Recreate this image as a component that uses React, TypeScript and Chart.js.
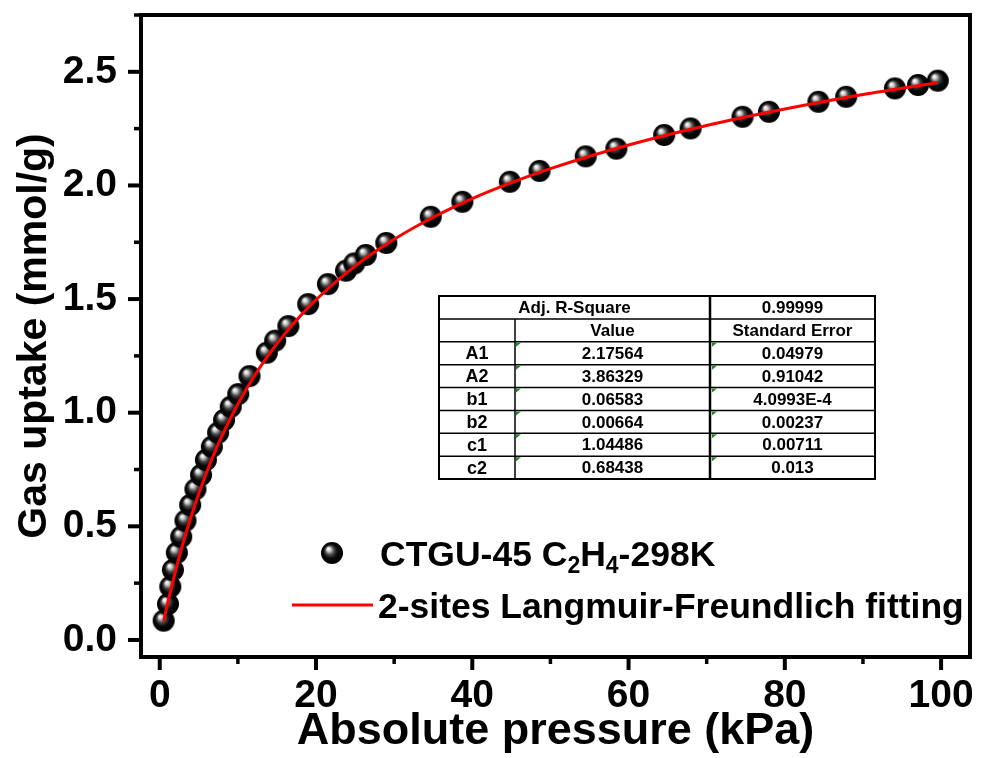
import React, { useEffect, useRef } from "react";
import { Chart, registerables } from "chart.js";

Chart.register(...registerables);

const FONT = '"Liberation Sans", Arial, Helvetica, sans-serif';

// Measured isotherm points (kPa, mmol/g)
const pressure = [0.5, 1.05, 1.35, 1.68, 2.19, 2.75, 3.29, 3.89, 4.56, 5.28, 5.91, 6.67, 7.47, 8.23, 9.08, 10.04, 11.48, 13.71, 14.77, 16.46, 18.99, 21.52, 23.84, 24.9, 26.37, 28.99, 34.68, 38.73, 44.81, 48.61, 54.52, 58.44, 64.56, 67.94, 74.59, 77.97, 84.3, 87.85, 94.09, 97.05, 99.58];
const uptake = [0.085, 0.158, 0.234, 0.308, 0.384, 0.454, 0.525, 0.594, 0.663, 0.726, 0.792, 0.85, 0.912, 0.968, 1.026, 1.082, 1.161, 1.264, 1.317, 1.381, 1.478, 1.566, 1.625, 1.657, 1.694, 1.747, 1.862, 1.928, 2.016, 2.064, 2.128, 2.162, 2.222, 2.251, 2.302, 2.324, 2.368, 2.39, 2.427, 2.442, 2.461];

// Fitted curve
const fitPressure = [0.5, 1, 2, 3, 4, 5, 6, 7, 8, 10, 12, 14, 16, 18, 20, 25, 30, 35, 40, 45, 50, 60, 70, 80, 90, 99.6];
const fitUptake = [0.083, 0.16, 0.301, 0.428, 0.541, 0.644, 0.738, 0.823, 0.901, 1.038, 1.156, 1.258, 1.347, 1.426, 1.497, 1.645, 1.763, 1.86, 1.942, 2.012, 2.074, 2.178, 2.264, 2.336, 2.4, 2.453];

// Axis
const xMin = -2.4;
const xMax = 103.7;
const yMin = -0.075;
const yMax = 2.75;
const xStep = 10;
const xLabelEvery = 20;
const yStep = 0.25;
const yLabelEvery = 0.5;
const xTitle = "Absolute pressure (kPa)";
const yTitle = "Gas uptake (mmol/g)";

// Legend
const seriesParts = [
  { t: "CTGU-45 C", sub: false },
  { t: "2", sub: true },
  { t: "H", sub: false },
  { t: "4", sub: true },
  { t: "-298K", sub: false },
];
const seriesLabel = "CTGU-45 C₂H₄-298K";
const fitLabel = "2-sites Langmuir-Freundlich fitting";

// Fit table
const tableTop = ["Adj. R-Square", "0.99999"];
const tableHead = ["", "Value", "Standard Error"];
const paramNames = ["A1", "A2", "b1", "b2", "c1", "c2"];
const paramValues = ["2.17564", "3.86329", "0.06583", "0.00664", "1.04486", "0.68438"];
const paramErrors = ["0.04979", "0.91042", "4.0993E-4", "0.00237", "0.00711", "0.013"];

function makeSphere(r: number): HTMLCanvasElement {
  const size = Math.ceil(r * 2 + 2);
  const c = document.createElement("canvas");
  c.width = size;
  c.height = size;
  const ctx = c.getContext("2d")!;
  const cx = size / 2;
  const g = ctx.createRadialGradient(cx - r * 0.35, cx - r * 0.4, 0.3, cx, cx, r);
  g.addColorStop(0, "#ffffff");
  g.addColorStop(0.15, "#d4d4d4");
  g.addColorStop(0.4, "#454545");
  g.addColorStop(0.65, "#080808");
  g.addColorStop(1, "#000000");
  ctx.fillStyle = g;
  ctx.beginPath();
  ctx.arc(cx, cx, r, 0, Math.PI * 2);
  ctx.fill();
  return c;
}

function isMultiple(v: number, step: number) {
  const q = v / step;
  return Math.abs(q - Math.round(q)) < 1e-6;
}

export default function App() {
  const ref = useRef<HTMLCanvasElement>(null);

  useEffect(() => {
    document.body.style.margin = "0";
    document.body.style.overflow = "hidden";
    const canvas = ref.current!;
    const sphere = makeSphere(11);

    const decor = {
      id: "decor",
      afterDraw(chart: any) {
        const ctx = chart.ctx as CanvasRenderingContext2D;
        const a = chart.chartArea;
        const xs = chart.scales.x;
        const ys = chart.scales.y;
        ctx.save();
        // ticks
        ctx.strokeStyle = "#000";
        ctx.lineCap = "butt";
        for (const t of xs.ticks) {
          const px = xs.getPixelForValue(t.value);
          const major = isMultiple(t.value, xLabelEvery);
          ctx.lineWidth = major ? 4 : 3.5;
          ctx.beginPath();
          ctx.moveTo(px, a.bottom);
          ctx.lineTo(px, a.bottom + (major ? 13 : 7));
          ctx.stroke();
        }
        for (const t of ys.ticks) {
          const py = ys.getPixelForValue(t.value);
          const major = isMultiple(t.value, yLabelEvery);
          ctx.lineWidth = major ? 4 : 3.5;
          ctx.beginPath();
          ctx.moveTo(a.left, py);
          ctx.lineTo(a.left - (major ? 13 : 7), py);
          ctx.stroke();
        }
        // frame
        ctx.lineWidth = 4;
        ctx.lineJoin = "miter";
        ctx.strokeRect(a.left, a.top, a.right - a.left, a.bottom - a.top);

        // legend
        const fitDs = chart.data.datasets[0];
        ctx.drawImage(sphere, 332 - sphere.width / 2, 553 - sphere.height / 2);
        ctx.fillStyle = "#000";
        ctx.textAlign = "left";
        ctx.textBaseline = "alphabetic";
        let x = 380;
        const base1 = 566;
        for (const p of seriesParts) {
          ctx.font = p.sub ? `bold 23px ${FONT}` : `bold 35.5px ${FONT}`;
          ctx.fillText(p.t, x, p.sub ? base1 + 7 : base1);
          x += ctx.measureText(p.t).width;
        }
        ctx.strokeStyle = fitDs.borderColor;
        ctx.lineWidth = 3;
        ctx.beginPath();
        ctx.moveTo(292, 605);
        ctx.lineTo(373, 605);
        ctx.stroke();
        ctx.font = `bold 35.5px ${FONT}`;
        ctx.fillText(fitDs.label, 378, 618);

        // table
        const L = 439, C1 = 515, C2 = 710, R = 875, T = 296, B = 479;
        const rows = 2 + paramNames.length;
        const rh = (B - T) / rows;
        ctx.fillStyle = "#fff";
        ctx.fillRect(L, T, R - L, B - T);
        ctx.strokeStyle = "#000";
        ctx.lineWidth = 1.5;
        for (let i = 1; i < rows; i++) {
          const y = T + i * rh;
          ctx.beginPath();
          ctx.moveTo(L, y);
          ctx.lineTo(R, y);
          ctx.stroke();
        }
        ctx.beginPath();
        ctx.moveTo(C1, T + rh);
        ctx.lineTo(C1, B);
        ctx.stroke();
        ctx.lineWidth = 2.5;
        ctx.beginPath();
        ctx.moveTo(C2, T);
        ctx.lineTo(C2, B);
        ctx.stroke();
        ctx.lineWidth = 2;
        ctx.strokeRect(L, T, R - L, B - T);
        // green markers
        ctx.fillStyle = "#1f8a1f";
        for (let i = 0; i < paramNames.length; i++) {
          const y = T + (i + 2) * rh + 1;
          for (const cx of [C1 + 1, C2 + 2]) {
            ctx.beginPath();
            ctx.moveTo(cx, y);
            ctx.lineTo(cx + 5, y);
            ctx.lineTo(cx, y + 4);
            ctx.closePath();
            ctx.fill();
          }
        }
        ctx.fillStyle = "#000";
        ctx.font = `bold 17px ${FONT}`;
        ctx.textAlign = "center";
        ctx.textBaseline = "middle";
        const mid = (i: number) => T + (i + 0.5) * rh + 1;
        ctx.fillText(tableTop[0], (L + C2) / 2, mid(0));
        ctx.fillText(tableTop[1], (C2 + R) / 2, mid(0));
        ctx.fillText(tableHead[0], (L + C1) / 2, mid(1));
        ctx.fillText(tableHead[1], (C1 + C2) / 2, mid(1));
        ctx.fillText(tableHead[2], (C2 + R) / 2, mid(1));
        ctx.font = `bold 18px ${FONT}`;
        for (let i = 0; i < paramNames.length; i++) {
          ctx.fillText(paramNames[i], (L + C1) / 2, mid(i + 2));
          ctx.font = `bold 17px ${FONT}`;
          ctx.fillText(paramValues[i], (C1 + C2) / 2, mid(i + 2));
          ctx.fillText(paramErrors[i], (C2 + R) / 2, mid(i + 2));
          ctx.font = `bold 18px ${FONT}`;
        }
        ctx.restore();
      },
    };

    const zeroPad = (s: any) => {
      s.paddingTop = 0;
      s.paddingBottom = 0;
      s.paddingLeft = 0;
      s.paddingRight = 0;
    };

    const chart = new Chart(canvas, {
      type: "scatter",
      data: {
        datasets: [
          {
            type: "line",
            label: fitLabel,
            data: fitPressure.map((p, i) => ({ x: p, y: fitUptake[i] })),
            borderColor: "rgb(255,0,0)",
            borderWidth: 3,
            pointRadius: 0,
            cubicInterpolationMode: "monotone",
            fill: false,
            order: 0,
          },
          {
            type: "scatter",
            label: seriesLabel,
            data: pressure.map((p, i) => ({ x: p, y: uptake[i] })),
            pointStyle: sphere,
            pointRadius: 11,
            order: 1,
          },
        ],
      } as any,
      options: {
        animation: false,
        responsive: true,
        maintainAspectRatio: false,
        layout: { padding: { left: 0, top: 15, right: 3, bottom: 0 } },
        plugins: { legend: { display: false }, tooltip: { enabled: false } },
        scales: {
          x: {
            type: "linear",
            min: xMin,
            max: xMax,
            grid: { display: false, drawTicks: false },
            border: { display: false },
            afterFit: (s: any) => {
              s.height = 101;
              zeroPad(s);
            },
            ticks: {
              stepSize: xStep,
              includeBounds: false,
              autoSkip: false,
              maxRotation: 0,
              padding: 16,
              color: "#000",
              font: { family: FONT, size: 39, weight: "bold" },
              callback: (v: any) => (isMultiple(Number(v), xLabelEvery) ? String(Math.round(Number(v))) : ""),
            },
            title: {
              display: true,
              text: xTitle,
              color: "#000",
              font: { family: FONT, size: 45, weight: "bold" },
              padding: { top: 0, bottom: -1 },
            },
          },
          y: {
            type: "linear",
            min: yMin,
            max: yMax,
            grid: { display: false, drawTicks: false },
            border: { display: false },
            afterFit: (s: any) => {
              s.width = 141;
              zeroPad(s);
            },
            ticks: {
              stepSize: yStep,
              includeBounds: false,
              autoSkip: false,
              padding: 24,
              color: "#000",
              font: { family: FONT, size: 39, weight: "bold" },
              callback: (v: any) => {
                const n = Number(v);
                return isMultiple(n, yLabelEvery) && n <= 2.5 + 1e-9 ? n.toFixed(1) : "";
              },
            },
            title: {
              display: true,
              text: yTitle,
              color: "#000",
              font: { family: FONT, size: 41, weight: "bold" },
              padding: { top: 10, bottom: 0 },
            },
          },
        },
      } as any,
      plugins: [decor],
    });
    return () => chart.destroy();
  }, []);

  return (
    <div style={{ position: "relative", width: 982, height: 758 }}>
      <canvas ref={ref} />
    </div>
  );
}
